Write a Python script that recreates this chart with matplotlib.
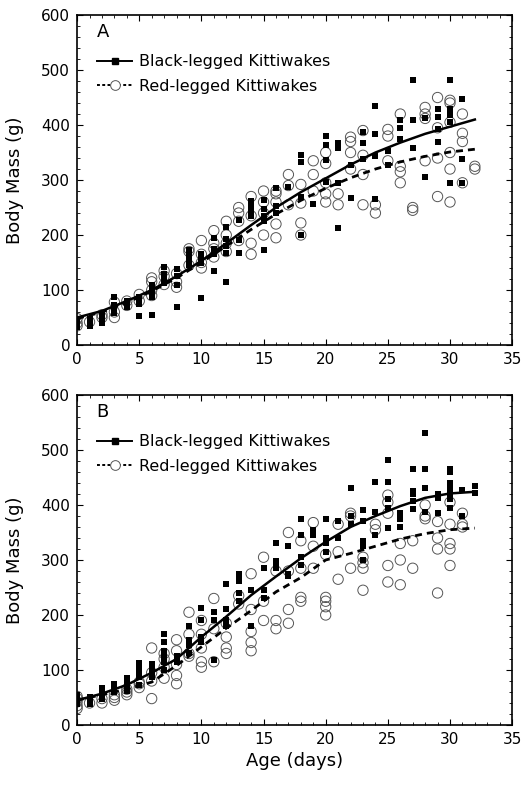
import matplotlib
matplotlib.use("Agg")
from matplotlib import pyplot as plt
from matplotlib.lines import Line2D
from matplotlib.ticker import MultipleLocator

plt.rcParams['font.family'] = ['DejaVu Sans']

# body mass (g) per age (days 0..32), panel A
a_black = [[32, 38, 42, 45], [35, 42, 48], [40, 48, 55], [58, 65, 72, 88], [70, 75, 80],
           [53, 75, 82, 88], [54, 88, 95, 102, 110], [112, 120, 130, 142], [70, 110, 125, 138],
           [145, 155, 165, 172], [86, 150, 158, 165], [135, 165, 175, 194],
           [115, 167, 180, 192, 215], [168, 191, 227], [235, 245, 255, 262],
           [173, 225, 235, 248, 264], [240, 252, 285], [288], [200, 270, 332, 346], [256],
           [297, 336, 364, 380], [212, 294, 358, 368], [267, 327], [338, 368, 388],
           [265, 344, 384, 435], [327, 353], [374, 394, 410], [358, 410, 481], [306, 412],
           [370, 392, 415, 430], [295, 406, 418, 430, 482], [294, 338, 447], []]
a_red = [[35, 40, 48], [42], [50, 55], [50, 60, 78], [72, 80], [80, 92], [90, 100, 115, 122],
         [110, 125, 135], [105, 115, 130], [145, 170, 175], [140, 150, 165, 190],
         [160, 175, 185, 208], [170, 185, 200, 225], [190, 225, 240, 250], [165, 185, 235, 270],
         [200, 240, 260, 280], [195, 220, 260, 275, 280], [255, 290, 310], [200, 222, 258, 292],
         [280, 310, 335], [260, 275, 295, 330, 350], [255, 275], [320, 350, 370, 378],
         [255, 310, 345, 390], [240, 255], [335, 380, 392], [295, 315, 325, 420], [245, 250],
         [335, 412, 420, 432], [270, 340, 395, 450], [260, 320, 350, 405, 440, 445],
         [295, 370, 385, 420], [320, 325]]

# panel B
b_black = [[38, 45, 50, 55], [38, 45, 50], [48, 55, 62, 68], [60, 68, 75], [62, 72, 80, 85],
           [72, 88, 98, 105, 112], [88, 95, 105, 110], [100, 115, 125, 135, 150, 165],
           [115, 120, 125], [130, 145, 155, 180], [150, 160, 190, 212], [118, 190, 205],
           [180, 190, 210, 257], [225, 240, 262, 270, 275], [180, 245], [230, 245, 285],
           [285, 290, 298, 330], [270, 275, 325], [290, 305, 345, 375], [345, 355],
           [315, 330, 340, 375], [340, 370], [365, 380, 430], [300, 325, 335, 370, 390],
           [345, 388, 442], [358, 395, 410, 442, 482], [360, 375, 385], [392, 408, 420, 425, 465],
           [388, 430, 465, 530], [385, 412, 420], [395, 410, 420, 430, 440, 460, 465],
           [380, 428], [422, 435]]
b_red = [[30, 35, 42, 48, 52], [40], [40, 48], [45, 50, 55], [55, 60, 65], [68, 75, 78],
         [48, 80, 95, 140], [85, 105, 120, 130], [75, 90, 110, 135, 155], [125, 130, 165, 205],
         [105, 115, 140, 165, 190], [115, 175, 230], [130, 140, 160, 185], [220, 235],
         [135, 150, 170, 210, 275], [190, 225, 305], [175, 190, 280], [185, 210, 280, 350],
         [225, 232, 285, 335], [285, 325, 368], [200, 215, 225, 232, 310], [265, 315, 365],
         [285, 380, 385], [245, 285, 295, 305], [355, 365], [260, 290, 385, 405, 418],
         [255, 300, 330], [285, 335], [375, 380, 400], [240, 320, 340, 370],
         [290, 320, 330, 365, 405], [360, 365, 385], []]

# fitted growth curves
fit_days = [0, 2, 4, 6, 8, 10, 12, 14, 16, 18, 20, 22, 24, 26, 28, 30, 32]
a_black_fit = [50, 62, 80, 100, 125, 153, 185, 218, 250, 278, 303, 328, 350, 368, 384, 397, 410]
a_red_fit = [48, 60, 77, 98, 122, 150, 180, 210, 238, 263, 285, 304, 320, 333, 343, 351, 356]
b_black_fit = [45, 57, 73, 95, 120, 160, 197, 236, 270, 303, 333, 360, 380, 398, 413, 421, 424]
b_red_fit = [45, 55, 65, 78, 108, 142, 176, 208, 242, 268, 300, 312, 325, 338, 348, 355, 358]


def flat(groups):
    xs, ys = [], []
    for d, vals in enumerate(groups):
        for v in vals:
            xs.append(d)
            ys.append(v)
    return xs, ys


fig = plt.figure(figsize=(5.21, 7.87), dpi=100)
axA = fig.add_axes([0.148, 0.5616, 0.835, 0.4193])
axB = fig.add_axes([0.148, 0.0788, 0.835, 0.4193])

panels = [(axA, 'A', a_black, a_red, a_black_fit, a_red_fit),
          (axB, 'B', b_black, b_red, b_black_fit, b_red_fit)]

for ax, letter, blk, red, blk_fit, red_fit in panels:
    rx, ry = flat(red)
    bx, by = flat(blk)
    ax.scatter(rx, ry, s=55, facecolors='none', edgecolors='#555555', linewidths=0.7, zorder=2)
    ax.scatter(bx, by, s=16, marker='s', color='black', linewidths=0, zorder=3)
    ax.plot(fit_days, blk_fit, color='black', lw=1.8, zorder=4)
    ax.plot(fit_days, red_fit, color='black', lw=2.0, ls=(0, (2.5, 1.8)), zorder=4)

    ax.set_xlim(0, 35)
    ax.set_ylim(0, 600)
    ax.xaxis.set_major_locator(MultipleLocator(5))
    ax.xaxis.set_minor_locator(MultipleLocator(1))
    ax.yaxis.set_major_locator(MultipleLocator(100))
    ax.yaxis.set_minor_locator(MultipleLocator(20))
    ax.tick_params(which='both', direction='in', top=True, right=True, labelsize=11)
    ax.tick_params(which='major', length=4, width=0.8, pad=5)
    ax.tick_params(which='minor', length=2, width=0.6)
    for sp in ax.spines.values():
        sp.set_linewidth(1.2)
    ax.set_ylabel('Body Mass (g)', fontsize=13, labelpad=12)
    ax.text(0.045, 0.975, letter, transform=ax.transAxes, fontsize=13, va='top')

    handles = [Line2D([0], [0], color='black', lw=1.4, marker='s', markersize=4),
               Line2D([0], [0], color='black', lw=1.4, ls=(0, (1.5, 1.2)), marker='o',
                      markersize=7, markerfacecolor='white', markeredgecolor='#555555',
                      markeredgewidth=0.7)]
    ax.legend(handles, ['Black-legged Kittiwakes', 'Red-legged Kittiwakes'],
              loc='upper left', bbox_to_anchor=(0.02, 0.915), frameon=False,
              fontsize=11.5, handlelength=2.2, handletextpad=0.4, labelspacing=0.6,
              numpoints=1, borderaxespad=0.3)

axB.set_xlabel('Age (days)', fontsize=13, labelpad=4)

fig.savefig('out.png', dpi=100)
